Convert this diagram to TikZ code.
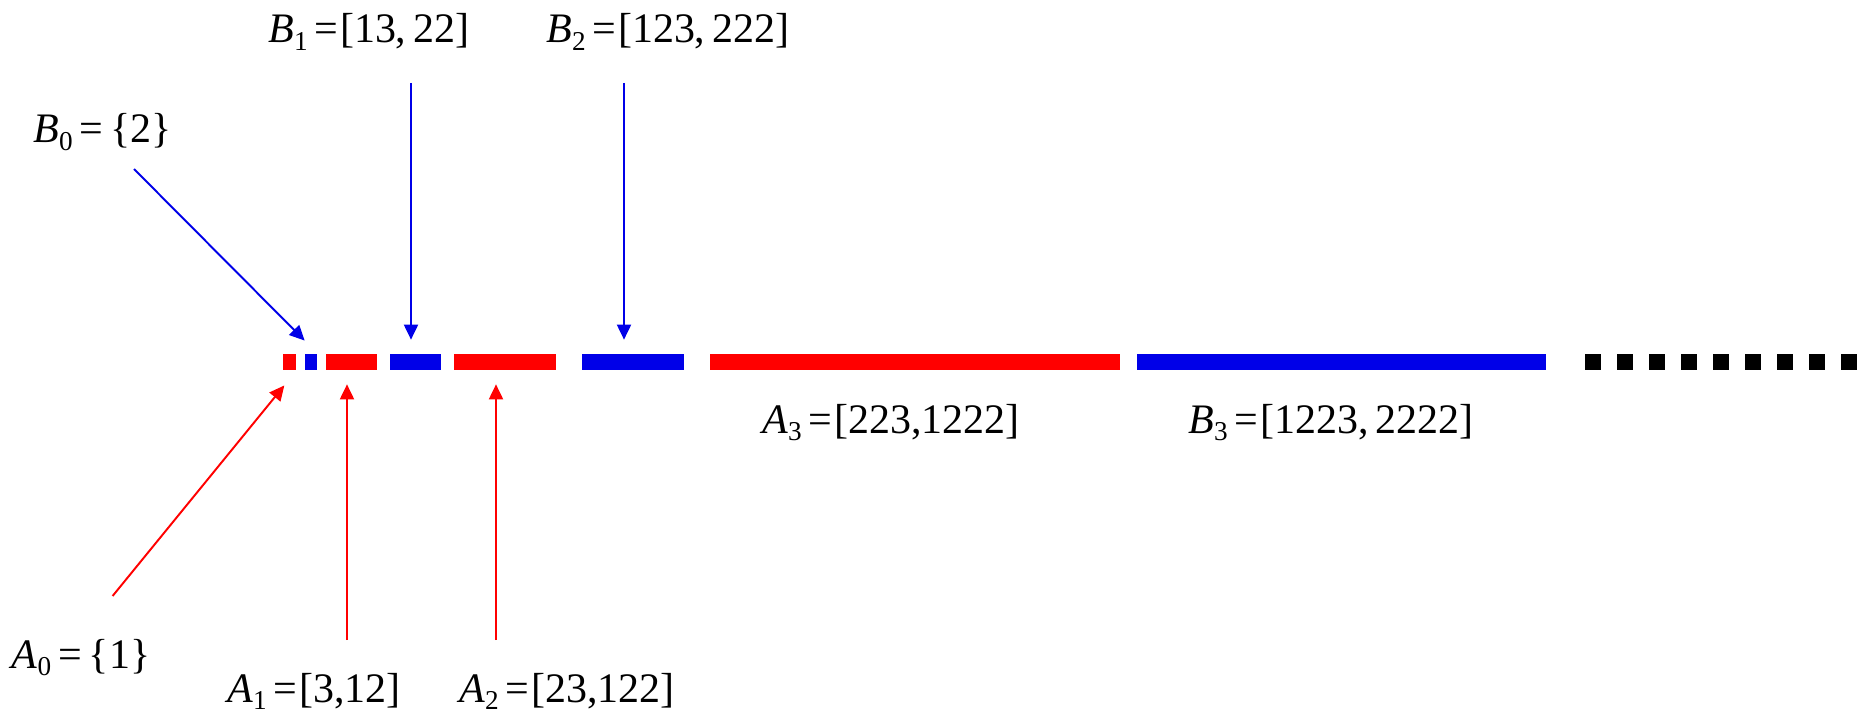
\documentclass[tikz,border=0pt]{standalone}
\usepackage{fontspec}
\setmainfont{Liberation Serif}
\usetikzlibrary{arrows.meta}
\definecolor{segred}{RGB}{255,0,0}
\definecolor{segblue}{RGB}{0,0,232}
\newcommand{\lowidx}[1]{\raisebox{-4.3pt}{\fontsize{15.5}{16}\selectfont #1}}
\tikzset{
    seg/.style = {rectangle, inner sep=0pt, minimum height=0.32cm},
    aseg/.style = {seg, fill=segred},
    bseg/.style = {seg, fill=segblue},
    dotseg/.style = {seg, fill=black, minimum width=0.32cm},
    setlabel/.style = {anchor=base west, inner sep=0pt, font=\fontsize{23.9}{28}\selectfont},
    aarrow/.style = {line width=1.1pt, segred, -{Triangle[length=0.3cm, width=0.28cm]}},
    barrow/.style = {line width=1.1pt, segblue, -{Triangle[length=0.3cm, width=0.28cm]}}
}

\begin{document}
\begin{tikzpicture}[x=0.02cm, y=-0.02cm]
	\useasboundingbox (0,0) rectangle (1858,716);

	% the segments on the line
	\node[aseg, minimum width=0.26cm](a0) at (289.8, 362){};
	\node[bseg, minimum width=0.246cm](b0) at (311.2, 362){};
	\node[aseg, minimum width=1.013cm](a1) at (351.3, 362){};
	\node[bseg, minimum width=1.013cm](b1) at (415.3, 362){};
	\node[aseg, minimum width=2.04cm](a2) at (505, 362){};
	\node[bseg, minimum width=2.05cm](b2) at (633.2, 362){};
	\node[aseg, minimum width=8.19cm](a3) at (914.8, 362){};
	\node[bseg, minimum width=8.18cm](b3) at (1341.3, 362){};
	\foreach \i in {0,...,8}
		\node[dotseg](dot\i) at (1592.7+32*\i, 362){};

	\node[setlabel](lb0) at (33, 143){\textit{B}\lowidx{0}\,=\,\{2\}};
	\node[setlabel](lb1) at (268, 43){\textit{B}\lowidx{1}\,=\kern1pt[13,\,22]};
	\node[setlabel](lb2) at (546, 43){\textit{B}\lowidx{2}\,=\kern1pt[123,\,222]};
	\node[setlabel](lb3) at (1188, 433){\textit{B}\lowidx{3}\,=\kern1pt[1223,\,2222]};
	\node[setlabel](la0) at (11.5, 668){\textit{A}\lowidx{0}\,=\,\{1\}};
	\node[setlabel](la1) at (227, 702){\textit{A}\lowidx{1}\,=\kern1pt[3,12]};
	\node[setlabel](la2) at (459, 702){\textit{A}\lowidx{2}\,=\kern1pt[23,122]};
	\node[setlabel](la3) at (762, 433){\textit{A}\lowidx{3}\,=\kern1pt[223,1222]};

	\coordinate (sB0) at (134, 169);
	\coordinate (sB1) at (411, 83);
	\coordinate (sB2) at (624, 83);
	\coordinate (sA0) at (112.6, 596);
	\coordinate (sA1) at (347, 640);
	\coordinate (sA2) at (496, 640);

	\draw[barrow, shorten >=0.37cm] (sB0) -- (b0.north east);
	\draw[barrow, shorten >=0.28cm] (sB1) -- (sB1 |- b1.north);
	\draw[barrow, shorten >=0.28cm] (sB2) -- (sB2 |- b2.north);
	\draw[aarrow, shorten >=0.39cm] (sA0) -- (a0.south east);
	\draw[aarrow, shorten >=0.28cm] (sA1) -- (sA1 |- a1.south);
	\draw[aarrow, shorten >=0.28cm] (sA2) -- (sA2 |- a2.south);
\end{tikzpicture}
\end{document}
